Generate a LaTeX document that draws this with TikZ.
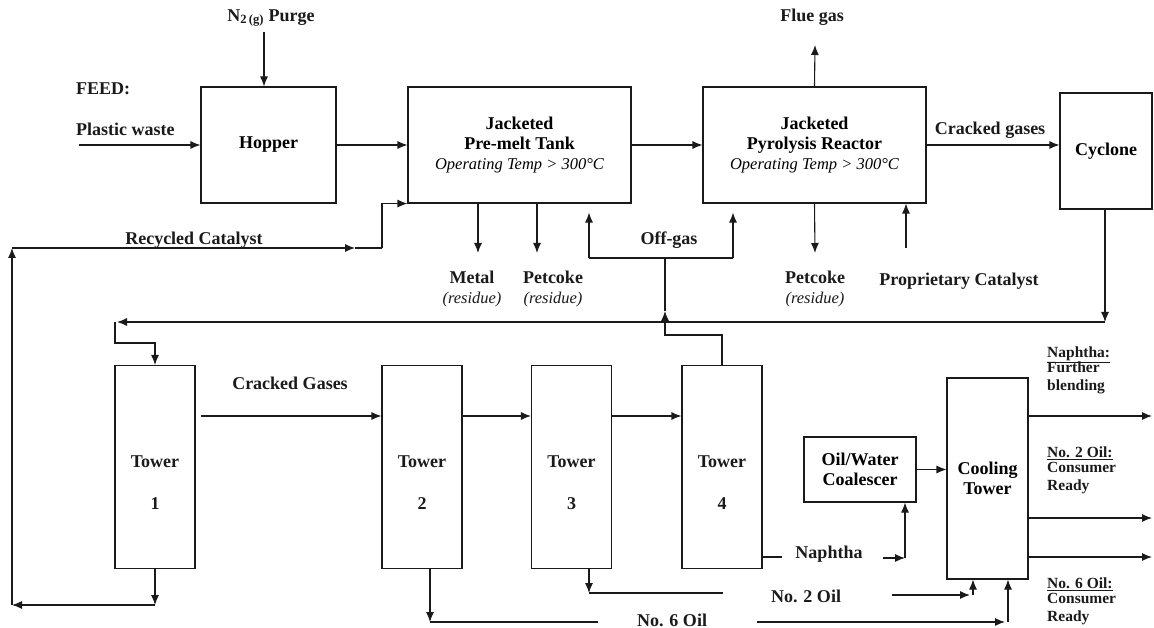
\documentclass[tikz,border=0pt]{standalone}
\usepackage{fontspec}
\setmainfont{Liberation Serif}
\usetikzlibrary{arrows.meta,positioning,calc}
\definecolor{pfdink}{HTML}{1A1A1A}
\newcommand{\pfdfont}{\fontsize{18}{20}\selectfont\bfseries}
\newcommand{\pfdsmall}{\fontsize{15.5}{17.5}\selectfont\bfseries}
\newcommand{\pfdit}{\fontsize{16.5}{20}\selectfont\mdseries\itshape}
\newcommand{\optemp}{{\pfdit Operating Temp > 300°C}}
\tikzset{
  unit/.style={draw=pfdink, line width=1.1pt, align=center, font=\pfdfont, inner sep=0pt},
  tower/.style={unit, minimum width=80pt, minimum height=203pt},
  lbl/.style={font=\pfdfont, text=pfdink, align=center, inner sep=1pt},
  prod/.style={lbl, font=\pfdsmall, anchor=west, align=left},
  arr/.style={draw=pfdink, line width=1.1pt, -{Latex[length=10pt,width=8pt]}},
  pipe/.style={draw=pfdink, line width=1.1pt},
}

\begin{document}
\begin{tikzpicture}[x=1pt, y=-1pt]
    \useasboundingbox (0,0) rectangle (1154,628);
    \node[unit, minimum width=135pt, minimum height=116pt] (hopper) at (268.5,145) {Hopper};
    \node[unit, minimum width=223pt, minimum height=116pt] (tank) at (519.5,145) {Jacketed\\Pre-melt Tank\\\optemp};
    \node[unit, minimum width=223pt, minimum height=116pt] (reactor) at (814.5,145) {Jacketed\\Pyrolysis Reactor\\\optemp};
    \node[unit, minimum width=92pt, minimum height=116pt] (cyclone) at (1106,151) {Cyclone};
    \foreach \n/\x in {1/155,2/422,3/571.5,4/722} {
      \node[tower] (t\n) at (\x,467) {};
      \node[lbl] (tl\n) at ([yshift=-16pt]t\n.center) {Tower\\[22pt]\n};
    }
    \node[unit, minimum width=112pt, minimum height=65pt] (coal) at (860,469.5) {Oil/Water\\Coalescer};
    \node[unit, minimum width=81pt, minimum height=201pt] (cool) at (987.5,478.5) {Cooling\\Tower};

    \node[lbl] (purge) at (271,18) {N\textsubscript{2\,(g)} Purge};
    \node[lbl, anchor=west] (feed) at (75,89) {FEED:};
    \node[lbl, anchor=west] (plastic) at (75,129) {Plastic waste};
    \node[lbl] (recyc) at (194,240) {Recycled Catalyst};
    \node[lbl] (metal) at (472,289) {Metal\\{\pfdit(residue)}};
    \node[lbl] (coke1) at (553,289) {Petcoke\\{\pfdit(residue)}};
    \node[lbl] (offgas) at (669,240) {Off-gas};
    \node[lbl] (flue) at (812,17) {Flue gas};
    \node[lbl] (coke2) at (815,289) {Petcoke\\{\pfdit(residue)}};
    \node[lbl] (propcat) at (959,281) {Proprietary Catalyst};
    \node[lbl] (cracked) at (990,130) {Cracked gases};
    \node[lbl] (crackedlow) at (290,383) {Cracked Gases};
    \node[lbl] (naph) at (829,554) {Naphtha};
    \node[lbl] (oil2) at (806,596) {No. 2 Oil};
    \node[lbl] (oil6) at (672,620) {No. 6 Oil};
    \node[prod] (outnaph) at (1046,370) {\underline{Naphtha:}\\[-2pt]Further\\blending};
    \node[prod] (out2) at (1046,470) {\underline{No. 2 Oil:}\\[-2pt]Consumer\\Ready};
    \node[prod] (out6) at (1046,601) {\underline{No. 6 Oil:}\\[-2pt]Consumer\\Ready};

    \coordinate (feedin) at (79,145);
    \coordinate (n2in) at (264,32);
    \coordinate (fluetip) at (815,45);
    \coordinate (metaltip) at (478,253);
    \coordinate (coketip1) at (537,253);
    \coordinate (coketip2) at (815,253);
    \coordinate (cattail) at (906,248);
    \draw[arr] (feedin) -- (hopper.west);
    \draw[arr] (n2in) -- (hopper.north -| n2in);
    \draw[arr] (hopper.east) -- (tank.west);
    \draw[arr] (tank.east) -- (reactor.west);
    \draw[arr] (reactor.east) -- (reactor.east -| cyclone.west);
    \draw[arr] (reactor.north) -- (fluetip);
    \draw[arr] (tank.south -| metaltip) -- (metaltip);
    \draw[arr] (tank.south -| coketip1) -- (coketip1);
    \draw[arr] (reactor.south) -- (coketip2);
    \draw[arr] (cattail) -- (reactor.south -| cattail);

    \coordinate (ogl) at (589,258);
    \coordinate (ogr) at (733,258);
    \coordinate (ogm) at (665,258);
    \coordinate (ogknee) at (665,335);
    \coordinate (ogtip) at (665,311);
    \draw[pipe] (ogl) -- (ogr);
    \draw[arr, shorten >=9pt] (ogl) -- (tank.south -| ogl);
    \draw[arr, shorten >=9pt] (ogr) -- (reactor.south -| ogr);
    \draw[arr] (t4.north) |- (ogknee) -- (ogtip);
    \draw[pipe] (ogtip) -- (ogm);

    \coordinate (cycdown) at (1105,322);
    \coordinate (retl) at (117,322);
    \coordinate (retc) at (115,322);
    \coordinate (t1in) at (115,343);
    \draw[arr] (cyclone.south -| cycdown) -- (cycdown);
    \draw[arr] (cycdown) -- (retl);
    \draw[arr] (retc) -- (t1in) -| (t1.north);

    \coordinate (t1out) at (155,605);
    \coordinate (lcorner) at (12,605);
    \coordinate (lup) at (12,248);
    \coordinate (rcarr) at (355,248);
    \coordinate (rcknee) at (382,248);
    \draw[arr] (t1.south) -- (t1out);
    \draw[arr] (t1out) -- (lcorner);
    \draw[arr] (lcorner) -- (lup);
    \draw[arr] (lup) -- (rcarr);
    \draw[pipe] (rcarr) -- (rcknee);
    \draw[arr] (rcknee) |- (tank.south west);

    \coordinate (cgout) at (201,416);
    \draw[arr] (cgout) -- (cgout -| t2.west);
    \draw[arr] (t2.east |- cgout) -- (t3.west |- cgout);
    \draw[arr] (t3.east |- cgout) -- (t4.west |- cgout);

    \coordinate (o6a) at (430,622);
    \coordinate (o6b) at (598,622);
    \coordinate (o6c) at (757,622);
    \coordinate (o6d) at (1005,622);
    \coordinate (o6e) at (1008,622);
    \draw[arr] (t2.south -| o6a) -- (o6a);
    \draw[pipe] (o6a) -- (o6b);
    \draw[arr] (o6c) -- (o6d);
    \draw[arr] (o6e) -- (cool.south -| o6e);

    \coordinate (o2a) at (589,593);
    \coordinate (o2b) at (723,593);
    \coordinate (o2c) at (892,595);
    \coordinate (o2d) at (970,595);
    \coordinate (o2e) at (973,595);
    \draw[arr] (t3.south -| o2a) -- (o2a);
    \draw[pipe] (o2a) -- (o2b);
    \draw[arr] (o2c) -- (o2d);
    \draw[arr] (o2e) -- (cool.south -| o2e);

    \coordinate (nb) at (782,557);
    \coordinate (nc) at (883,558);
    \coordinate (nd) at (905,558);
    \draw[pipe] (t4.east |- nb) -- (nb);
    \draw[arr] (nc) -- (nd);
    \draw[arr] (nd) -- (coal.south -| nd);
    \draw[arr] (coal.east) -- (coal.east -| cool.west);

    \coordinate (p1) at (1152,416);
    \coordinate (p2) at (1152,518);
    \coordinate (p3) at (1152,557);
    \foreach \p in {p1,p2,p3} \draw[arr] (cool.east |- \p) -- (\p);
  \end{tikzpicture}
\end{document}
